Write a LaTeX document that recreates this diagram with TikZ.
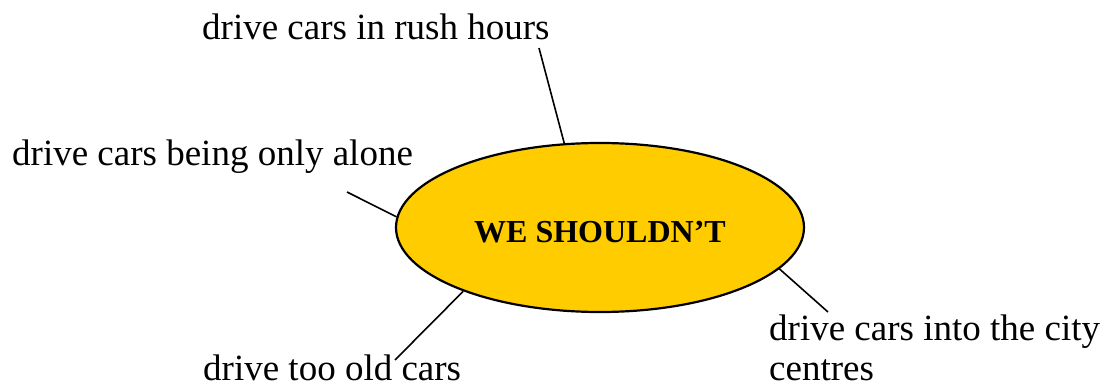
\documentclass[tikz,border=0pt]{standalone}
\usepackage{fontspec}
\setmainfont{Liberation Serif}
\usetikzlibrary{shapes.geometric}
\definecolor{gold}{HTML}{FFCC00}
\begin{document}
\begin{tikzpicture}[x=1pt,y=-1pt,
  lbl/.style={anchor=base west,inner sep=0pt,font=\fontsize{37}{40}\selectfont},
  conn/.style={line width=1.6pt,black},
  hub/.style={ellipse,draw=black,line width=2.2pt,fill=gold,minimum width=408pt,minimum height=169pt,inner sep=0pt,font=\fontsize{32}{36}\selectfont\bfseries}]
\useasboundingbox (0,0) rectangle (1107,390);
\node[hub] (c) at (600,227.5) {};
\node[anchor=base,inner sep=0pt,font=\fontsize{32}{36}\selectfont\bfseries] (t) at (600,242) {WE SHOULDN’T};
\node[lbl] (a) at (202,40) {drive cars in rush hours};
\node[lbl] (b) at (12,166) {drive cars being only alone};
\node[lbl] (d) at (203,380) {drive too old cars};
\node[lbl] (e1) at (769,340) {drive cars into the city};
\node[lbl] (e2) at (769,380) {centres};
\coordinate (pa) at (539,48);
\coordinate (pb) at (347,192);
\coordinate (pd) at (395,360);
\coordinate (pe) at (828,312);
\draw[conn] (pa) -- (c.113.6);
\draw[conn] (pb) -- (c.177);
\draw[conn] (pd) -- (c.205.2);
\draw[conn] (pe) -- (c.347.8);
\end{tikzpicture}
\end{document}
